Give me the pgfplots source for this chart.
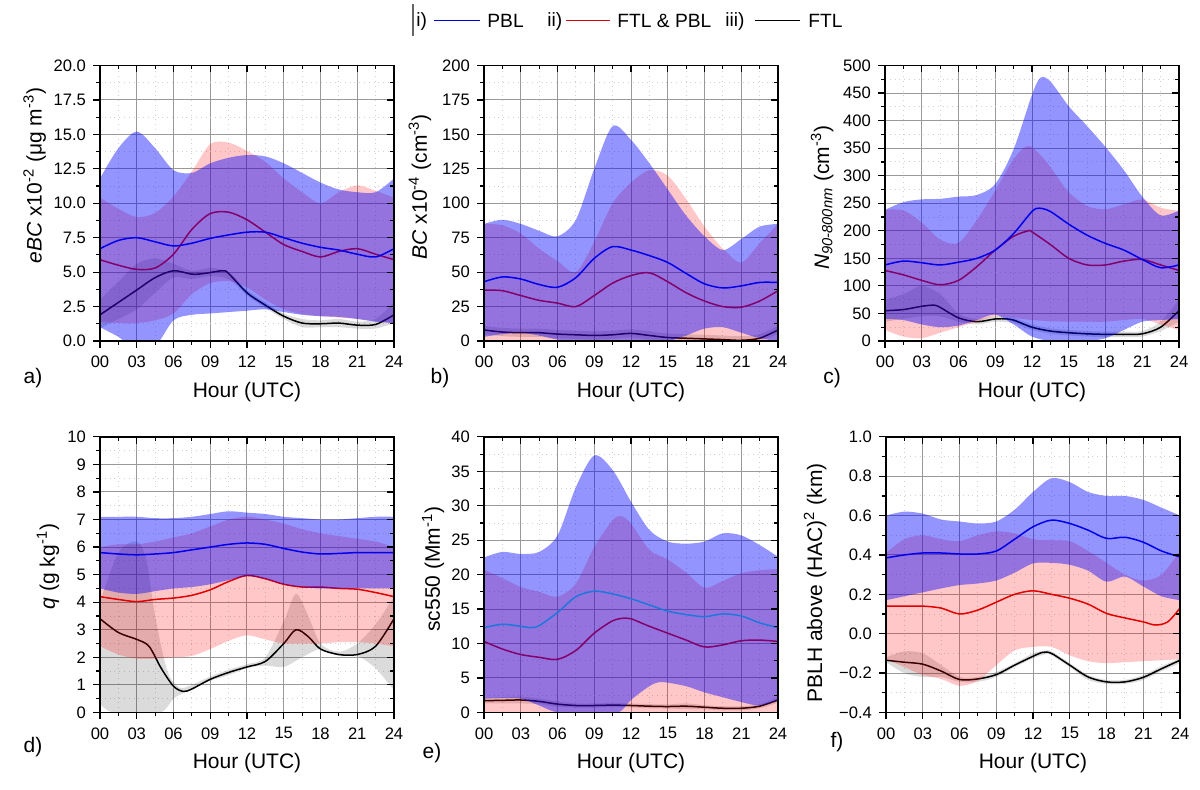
\documentclass[border=0pt]{standalone}
\usepackage{pgfplots}
\pgfplotsset{compat=1.18}
\usepgfplotslibrary{fillbetween}
\usepackage{fontspec}
\setmainfont{Liberation Sans}
\tikzset{fill between/on layer=main}
\definecolor{lblue}{RGB}{0,0,235}
\definecolor{lred}{RGB}{225,0,0}
\definecolor{eblue}{RGB}{30,120,220}
\pgfplotsset{
  base/.style={width=147pt,height=137.75pt,scale only axis,
    xmin=0,xmax=24,xtick={0,3,...,24},
    minor x tick num=1, minor y tick num=1,
    major tick length=3.5pt, minor tick length=2pt,
    every tick/.style={black,line width=0.6pt},
    axis line style={black,line width=0.7pt}},
  panel/.style={base,
    xticklabels={00,03,06,09,12,15,18,21,24},
    xtick pos=left, ytick pos=left, tick align=outside,
    grid=both,
    major grid style={black!40,line width=0.5pt},
    minor grid style={black!18,dotted,line width=0.45pt},
    tick label style={font=\fontsize{8.3}{9}\selectfont},
    label style={font=\fontsize{10.5}{12}\selectfont},
    xlabel={Hour (UTC)},
    xlabel style={at={(axis description cs:0.5,0)},anchor=center,yshift=-25.5pt},
    xticklabel style={yshift=-0.5pt}},
  mirror/.style={base, xticklabels={}, yticklabels={},
    xtick pos=right, ytick pos=right, tick align=inside},
  bp/.style={draw=none,smooth,forget plot},
  gband/.style={fill=black,fill opacity=0.14,draw=none,forget plot},
  pband/.style={fill=red,fill opacity=0.22,draw=none,forget plot},
  bband/.style={fill=blue,fill opacity=0.42,draw=none,forget plot},
  kline/.style={black,line width=0.75pt,smooth,forget plot},
  rline/.style={lred,line width=0.75pt,smooth,forget plot},
  bline/.style={lblue,line width=0.75pt,smooth,forget plot},
}
\begin{document}
\begin{tikzpicture}
\path (0,0) rectangle (600pt,395pt);
% ---------------- legend
\draw[black!60,line width=0.6pt] (206.5pt,393pt) -- (206.5pt,377pt);
\begin{scope}[every node/.style={anchor=west,inner sep=0pt,font=\fontsize{9.6}{11}\selectfont}]
\node at (208pt,384.3pt) {i)};
\draw[blue!85!black,line width=0.6pt] (217pt,384.8pt) -- (240pt,384.8pt);
\node at (243.5pt,384.3pt) {PBL};
\node at (273.5pt,384.3pt) {ii)};
\draw[red!85!black,line width=0.6pt] (283pt,384.8pt) -- (305pt,384.8pt);
\node at (308.5pt,384.3pt) {FTL \& PBL};
\node at (362.5pt,384.3pt) {iii)};
\draw[black,line width=0.6pt] (377.5pt,384.8pt) -- (400pt,384.8pt);
\node at (404pt,384.3pt) {FTL};
\end{scope}
% ---------------- panel labels
\begin{scope}[every node/.style={font=\fontsize{10.5}{12}\selectfont}]
\node at (16.5pt,206pt) {a)};
\node at (220pt,206pt) {b)};
\node at (416pt,206pt) {c)};
\node at (16.5pt,21.5pt) {d)};
\node at (216pt,18.5pt) {e)};
\node at (418.5pt,24pt) {f)};
\end{scope}
% ================= a
\begin{axis}[panel,at={(50pt,224.5pt)},anchor=south west,
  ymin=0,ymax=20,ytick={0,2.5,5,7.5,10,12.5,15,17.5,20},
  yticklabels={0.0,2.5,5.0,7.5,10.0,12.5,15.0,17.5,20.0},
  ylabel={\textit{eBC} x10\textsuperscript{-2} (μg m\textsuperscript{-3})},
  ylabel style={at={(axis description cs:-0.222,0.6)},anchor=center}]
\addplot[bp,name path=aGu] coordinates {(0,3.0)(1.5,4.3)(3,5.6)(4.5,6.0)(6,5.6)(7.5,5.1)(9,5.3)(10.5,5.0)(12,3.7)(13.5,2.8)(15,2.0)(16.5,1.6)(18,1.5)(19.5,1.6)(21,1.4)(22.5,1.6)(24,2.8)};
\addplot[bp,name path=aGl] coordinates {(0,0.9)(1.5,1.6)(3,2.3)(4.5,3.5)(6,4.6)(7.5,4.5)(9,4.7)(10.5,4.5)(12,3.3)(13.5,2.4)(15,1.6)(16.5,1.0)(18,1.0)(19.5,1.0)(21,0.9)(22.5,0.9)(24,1.3)};
\addplot[gband] fill between[of=aGu and aGl];
\addplot[kline] coordinates {(0,1.9)(1.5,2.8)(3,3.7)(4.5,4.6)(6,5.1)(7.5,4.85)(8.5,4.9)(10,5.1)(10.5,4.9)(12,3.5)(13.5,2.6)(15,1.8)(16.5,1.3)(18,1.25)(19.5,1.3)(21,1.15)(22.5,1.2)(24,1.9)};
\addplot[bp,name path=aPu] coordinates {(0,10.4)(1.5,9.6)(3,9.0)(4.5,9.3)(6,10.5)(7.5,12.3)(9,14.3)(10.5,14.4)(12,13.8)(13.5,13.0)(15,11.8)(16.5,10.8)(18,10.0)(19.5,10.8)(21,11.3)(22.5,10.9)(24,10.4)};
\addplot[bp,name path=aPl] coordinates {(0,1.4)(1.5,1.3)(3,1.3)(4.5,1.5)(6,2.0)(7.5,3.4)(9,4.2)(10.5,4.35)(12,3.9)(13.5,3.0)(15,2.3)(16.5,1.95)(18,1.8)(19.5,1.7)(21,1.6)(22.5,1.45)(24,1.3)};
\addplot[pband] fill between[of=aPu and aPl];
\addplot[rline] coordinates {(0,5.9)(1.5,5.5)(3,5.2)(4.5,5.3)(6,6.3)(7.5,8.1)(9,9.25)(10.5,9.35)(12,8.8)(13.5,7.9)(15,7.0)(16.5,6.5)(18,6.1)(19.5,6.5)(21,6.7)(22.5,6.3)(24,5.9)};
\addplot[bp,name path=aBu] coordinates {(0,11.8)(1.5,14.0)(3,15.2)(4.5,14.0)(6,12.4)(7.5,12.2)(9,12.9)(10.5,13.3)(12,13.5)(13.5,13.4)(15,12.9)(16.5,12.2)(18,11.5)(19.5,11.0)(21,10.8)(22.5,10.8)(24,11.8)};
\addplot[bp,name path=aBl] coordinates {(0,1.0)(1.5,0.3)(3,-0.6)(4.5,-0.4)(6,1.5)(7.5,1.9)(9,2.0)(10.5,2.1)(12,2.2)(13.5,2.3)(15,2.1)(16.5,1.9)(18,1.8)(19.5,1.75)(21,1.6)(22.5,1.4)(24,1.3)};
\addplot[bband] fill between[of=aBu and aBl];
\addplot[bline] coordinates {(0,6.7)(1.5,7.3)(3,7.5)(4.5,7.2)(6,6.9)(7.5,7.1)(9,7.45)(10.5,7.7)(12,7.9)(13.5,7.9)(15,7.5)(16.5,7.1)(18,6.8)(19.5,6.6)(21,6.3)(22.5,6.1)(24,6.7)};
\end{axis}
\begin{axis}[mirror,at={(50pt,224.5pt)},anchor=south west,ymin=0,ymax=20,ytick={0,2.5,...,20}]
\addplot[draw=none,forget plot] coordinates {(0,0)(24,20)};
\end{axis}
% ================= b
\begin{axis}[panel,at={(242pt,224.5pt)},anchor=south west,
  ymin=0,ymax=200,ytick={0,25,...,200},
  yticklabels={0,25,50,75,100,125,150,175,200},
  ylabel={\textit{BC} x10\textsuperscript{-4} (cm\textsuperscript{-3})},
  ylabel style={at={(axis description cs:-0.218,0.56)},anchor=center}]
\addplot[bp,name path=bGu] coordinates {(0,11)(1.5,9.5)(3,9)(4.5,9)(6,8)(7.5,7.5)(9,7)(10.5,7.5)(12,8.5)(13.5,7)(15,5.5)(16.5,5)(18,4.5)(19.5,4)(21,3.5)(22.5,5)(24,11)};
\addplot[bp,name path=bGl] coordinates {(0,5)(1.5,3.5)(3,3)(4.5,3)(6,2)(7.5,1.5)(9,1)(10.5,1.5)(12,2.5)(13.5,1)(15,0)(16.5,0)(18,0)(19.5,0)(21,0)(22.5,0)(24,5)};
\addplot[gband] fill between[of=bGu and bGl];
\addplot[kline] coordinates {(0,8)(1.5,6.5)(3,6)(4.5,6)(6,5)(7.5,4.5)(9,4)(10.5,4.5)(12,5.5)(13.5,4)(15,2.5)(16.5,2)(18,1.5)(19.5,1)(21,0.5)(22.5,2)(24,8)};
\addplot[bp,name path=bPu] coordinates {(0,85)(1.5,84)(3,78)(4.5,67)(6,58)(7.5,50)(9,72)(10.5,100)(12,115)(13.5,124)(15,120)(16.5,103)(18,83)(19.5,67)(21,57)(22.5,71)(24,85)};
\addplot[bp,name path=bPl] coordinates {(0,0)(6,0)(12,0)(18,0)(24,0)};
\addplot[pband] fill between[of=bPu and bPl];
\addplot[rline] coordinates {(0,37)(1.5,36.5)(3,33)(4.5,29.5)(6,27.5)(7.5,25)(9,33)(10.5,42)(12,47.5)(13.5,49.5)(15,43)(16.5,35)(18,29)(19.5,25)(21,24.5)(22.5,29)(24,36.5)};
\addplot[bp,name path=bBu] coordinates {(0,85)(1.5,88)(3,85)(4.5,80)(6,76)(7.5,88)(9,125)(10.5,156)(12,146)(13.5,129)(15,110)(16.5,91)(18,76)(19.5,66)(21,74)(22.5,83)(24,85)};
\addplot[bp,name path=bBl] coordinates {(0,3)(1.5,5)(3,6)(4.5,4)(6,1)(7.5,0)(9,0)(10.5,0)(12,0)(13.5,0)(15,0)(16.5,4)(18,9)(19.5,10)(21,6)(22.5,2)(24,0)};
\addplot[bband] fill between[of=bBu and bBl];
\addplot[bline] coordinates {(0,43)(1.5,46.5)(3,45)(4.5,41)(6,39)(7.5,46)(9,60)(10.5,68.5)(12,66)(13.5,62)(15,57)(16.5,49)(18,41.5)(19.5,38.5)(21,40)(22.5,42.5)(24,42.5)};
\end{axis}
\begin{axis}[mirror,at={(242pt,224.5pt)},anchor=south west,ymin=0,ymax=200,ytick={0,25,...,200}]
\addplot[draw=none,forget plot] coordinates {(0,0)(24,200)};
\end{axis}
% ================= c
\begin{axis}[panel,at={(442.5pt,224.5pt)},anchor=south west,
  ymin=0,ymax=500,ytick={0,50,...,500},
  yticklabels={0,50,100,150,200,250,300,350,400,450,500},
  ylabel={\textit{N}\textsubscript{\textit{90-800nm}} (cm\textsuperscript{-3})},
  ylabel style={at={(axis description cs:-0.214,0.52)},anchor=center}]
\addplot[bp,name path=cGu] coordinates {(0,75)(1.5,85)(3,100)(4.5,85)(6,50)(7.5,40)(9,45)(10.5,42)(12,30)(13.5,23)(15,20)(16.5,18)(18,17)(19.5,17)(21,18)(22.5,35)(24,75)};
\addplot[bp,name path=cGl] coordinates {(0,35)(1.5,40)(3,45)(4.5,45)(6,35)(7.5,30)(9,35)(10.5,32)(12,20)(13.5,13)(15,10)(16.5,8)(18,7)(19.5,7)(21,8)(22.5,18)(24,35)};
\addplot[gband] fill between[of=cGu and cGl];
\addplot[kline] coordinates {(0,55)(1.5,57)(3,63)(4,65)(4.5,61)(6,42)(7.5,35)(9,40)(10,40)(10.5,38)(12,25)(13.5,18)(15,15)(16.5,13)(18,12)(19.5,12)(21,13)(22.5,25)(24,55)};
\addplot[bp,name path=cPu] coordinates {(0,238)(1.5,237)(3,215)(4.5,184)(6,178)(7.5,220)(9,273)(10.5,330)(11.7,354)(13,330)(14,300)(15,270)(16.5,245)(18,239)(19.5,248)(21,257)(22.5,242)(24,236)};
\addplot[bp,name path=cPl] coordinates {(0,20)(1.5,8)(3,5)(4.5,15)(6,25)(7.5,35)(9,45)(10.5,42)(12,38)(13.5,36)(15,35)(16.5,35)(18,35)(19.5,38)(21,40)(22.5,30)(24,20)};
\addplot[pband] fill between[of=cPu and cPl];
\addplot[rline] coordinates {(0,128)(1.5,120)(3,110)(4.5,102)(6,110)(7.5,135)(9,165)(10.5,190)(11.7,200)(12,198)(13.5,175)(15,150)(16.5,138)(18,138)(19.5,145)(21,148)(22.5,138)(24,128)};
\addplot[bp,name path=cBu] coordinates {(0,238)(1.5,252)(3,257)(4.5,258)(6,262)(7.5,265)(9,285)(10.5,348)(12,447)(12.7,478)(13.5,471)(15,426)(16.5,390)(18,352)(19.5,310)(21,262)(22.5,228)(24,237)};
\addplot[bp,name path=cBl] coordinates {(0,40)(1.5,38)(3,30)(4.5,25)(6,28)(7.5,38)(9,48)(10.5,30)(12,8)(13.5,0)(15,0)(16.5,0)(18,5)(19.5,20)(21,35)(22.5,38)(24,40)};
\addplot[bband] fill between[of=cBu and cBl];
\addplot[bline] coordinates {(0,138)(1.5,145)(3,142)(4.5,138)(6,143)(7.5,150)(9,165)(10.5,195)(12,235)(12.6,241)(13.5,235)(15,212)(16.5,192)(18,177)(19.5,165)(21,148)(22.5,133)(24,138)};
\end{axis}
\begin{axis}[mirror,at={(442.5pt,224.5pt)},anchor=south west,ymin=0,ymax=500,ytick={0,50,...,500}]
\addplot[draw=none,forget plot] coordinates {(0,0)(24,500)};
\end{axis}
% ================= d
\begin{axis}[panel,at={(50pt,38.8pt)},anchor=south west,
  ymin=0,ymax=10,ytick={0,1,...,10},
  yticklabels={0,1,2,3,4,5,6,7,8,9,10},
  ylabel={\textit{q} (g kg\textsuperscript{-1})},
  ylabel style={at={(axis description cs:-0.177,0.53)},anchor=center}]
\addplot[bp,name path=dGu] coordinates {(0,4.0)(1.5,5.8)(3,6.2)(3.8,5.5)(4.5,3.5)(5.5,1.5)(6.5,0.9)(7.5,1.0)(9,1.3)(10.5,1.55)(12,1.75)(13.5,2.0)(15,3.3)(16,4.3)(17,3.5)(18,2.5)(19.5,2.2)(21,2.5)(22.5,3.2)(24,4.2)};
\addplot[bp,name path=dGl] coordinates {(0,0.3)(1,0)(3,0)(5,0)(6,0.5)(6.8,0.7)(7.5,0.85)(9,1.15)(10.5,1.35)(12,1.6)(13.5,1.7)(15,1.65)(16.5,2.0)(18,2.3)(19.5,2.05)(21,2.05)(22.5,1.6)(24,0.8)};
\addplot[gband] fill between[of=dGu and dGl];
\addplot[kline] coordinates {(0,3.4)(1.5,2.9)(3,2.65)(4,2.4)(5,1.6)(6,0.95)(6.8,0.76)(7.5,0.85)(9,1.2)(10.5,1.45)(12,1.65)(13.5,1.85)(15,2.5)(16,3.0)(17,2.75)(18,2.3)(19.5,2.1)(21,2.1)(22.5,2.4)(24,3.4)};
\addplot[bp,name path=dPu] coordinates {(0,6.0)(1.5,6.1)(3,6.1)(4.5,6.2)(6,6.35)(7.5,6.5)(9,6.75)(10.5,7.0)(12,7.1)(13.5,7.0)(15,6.85)(16.5,6.65)(18,6.5)(19.5,6.4)(21,6.3)(22.5,6.2)(24,6.0)};
\addplot[bp,name path=dPl] coordinates {(0,2.4)(1.5,2.1)(3,1.95)(4.5,1.95)(6,2.0)(7.5,2.05)(9,2.3)(10.5,2.6)(12,2.8)(13.5,2.65)(15,2.5)(16.5,2.5)(18,2.5)(19.5,2.55)(21,2.55)(22.5,2.5)(24,2.4)};
\addplot[pband] fill between[of=dPu and dPl];
\addplot[rline] coordinates {(0,4.2)(1.5,4.1)(3,4.02)(4.5,4.1)(6,4.15)(7.5,4.25)(9,4.45)(10.5,4.75)(12,4.97)(13.5,4.85)(15,4.65)(16.5,4.55)(18,4.55)(19.5,4.5)(21,4.47)(22.5,4.35)(24,4.2)};
\addplot[bp,name path=dBu] coordinates {(0,7.1)(1.5,7.1)(3,7.1)(4.5,7.05)(6,7.05)(7.5,7.1)(9,7.2)(10.5,7.3)(12,7.25)(13.5,7.2)(15,7.1)(16.5,7.05)(18,7.0)(19.5,7.0)(21,7.05)(22.5,7.1)(24,7.1)};
\addplot[bp,name path=dBl] coordinates {(0,4.5)(1.5,4.35)(3,4.3)(4.5,4.4)(6,4.5)(7.5,4.55)(9,4.65)(10.5,4.8)(12,4.95)(13.5,4.85)(15,4.65)(16.5,4.55)(18,4.5)(19.5,4.5)(21,4.5)(22.5,4.5)(24,4.5)};
\addplot[bband] fill between[of=dBu and dBl];
\addplot[bline] coordinates {(0,5.8)(1.5,5.75)(3,5.72)(4.5,5.75)(6,5.8)(7.5,5.9)(9,6.0)(10.5,6.1)(12,6.15)(13.5,6.1)(15,5.95)(16.5,5.82)(18,5.75)(19.5,5.77)(21,5.8)(22.5,5.8)(24,5.8)};
\end{axis}
\begin{axis}[mirror,at={(50pt,38.8pt)},anchor=south west,ymin=0,ymax=10,ytick={0,1,...,10}]
\addplot[draw=none,forget plot] coordinates {(0,0)(24,10)};
\end{axis}
% ================= e
\begin{axis}[panel,at={(242pt,38.8pt)},anchor=south west,
  ymin=0,ymax=40,ytick={0,5,...,40},
  yticklabels={0,5,10,15,20,25,30,35,40},
  ylabel={sc550 (Mm\textsuperscript{-1})},
  ylabel style={at={(axis description cs:-0.173,0.52)},anchor=center}]
\addplot[bp,name path=eGu] coordinates {(0,2.1)(1.5,2.2)(3,2.3)(4.5,2.0)(6,1.6)(7.5,1.3)(9,1.3)(10.5,1.35)(12,1.3)(13.5,1.2)(15,1.15)(16.5,1.3)(18,1.05)(19.5,0.9)(21,0.9)(22.5,1.2)(24,2.2)};
\addplot[bp,name path=eGl] coordinates {(0,1.3)(1.5,1.3)(3,1.3)(4.5,1.2)(6,0.8)(7.5,0.7)(9,0.7)(10.5,0.75)(12,0.7)(13.5,0.6)(15,0.55)(16.5,0.5)(18,0.45)(19.5,0.3)(21,0.3)(22.5,0.6)(24,1.4)};
\addplot[gband] fill between[of=eGu and eGl];
\addplot[kline] coordinates {(0,1.7)(1.5,1.75)(3,1.8)(4.5,1.6)(6,1.2)(7.5,1.0)(9,1.0)(10.5,1.05)(12,1.0)(13.5,0.9)(15,0.85)(16.5,0.9)(18,0.75)(19.5,0.6)(21,0.6)(22.5,0.9)(24,1.8)};
\addplot[bp,name path=ePu] coordinates {(0,20.7)(1.5,19.5)(3,18.2)(4.5,17.5)(6,16.8)(7.5,18.7)(9,24)(10.5,27.9)(11.2,28.5)(12,27.4)(13.5,23.6)(15,22.2)(16.5,20.3)(18,18.1)(19.5,19.1)(21,20.2)(22.5,20.65)(24,20.8)};
\addplot[bp,name path=ePl] coordinates {(0,0)(6,0)(12,0)(18,0)(24,0)};
\addplot[pband] fill between[of=ePu and ePl];
\addplot[rline] coordinates {(0,10.3)(1.5,9.2)(3,8.4)(4.5,8.0)(6,7.7)(7.5,9.0)(9,11.5)(10.5,13.3)(11.5,13.7)(12,13.6)(13.5,12.5)(15,11.5)(16.5,10.5)(18,9.5)(19.5,9.8)(21,10.4)(22.5,10.5)(24,10.3)};
\addplot[bp,name path=eBu] coordinates {(0,22.5)(1.5,23.3)(3,23.0)(4.5,23.3)(6,25.7)(7.5,32.7)(9,37.3)(10.5,35.2)(12,30.6)(13.5,26.5)(15,24.8)(16.5,24.5)(18,24.8)(19.5,26)(21,25.7)(22.5,24.3)(24,22.6)};
\addplot[bp,name path=eBl] coordinates {(0,2.0)(1.5,2.1)(3,2.0)(4.5,1.0)(6,0)(9,-0.5)(11,0)(12,1.8)(13.5,3.8)(14.5,4.4)(16.5,3.8)(18,2.9)(19.5,2.2)(21,1.5)(22.5,1.0)(24,1.8)};
\addplot[bband] fill between[of=eBu and eBl];
\addplot[eblue,line width=0.75pt,smooth,forget plot] coordinates {(0,12.3)(1.5,12.8)(3,12.5)(3.8,12.3)(4.5,12.6)(6,14.5)(7.5,16.8)(9,17.6)(10.5,17.2)(12,16.5)(13.5,15.6)(15,14.7)(16.5,14.2)(18,13.9)(19.5,14.3)(21,14.0)(22.5,13.0)(24,12.3)};
\end{axis}
\begin{axis}[mirror,at={(242pt,38.8pt)},anchor=south west,ymin=0,ymax=40,ytick={0,5,...,40}]
\addplot[draw=none,forget plot] coordinates {(0,0)(24,40)};
\end{axis}
% ================= f
\begin{axis}[panel,at={(443pt,38.8pt)},anchor=south west,
  ymin=-0.4,ymax=1.0,ytick={-0.4,-0.2,0,0.2,0.4,0.6,0.8,1.0},
  yticklabels={−0.4,−0.2,0.0,0.2,0.4,0.6,0.8,1.0},
  ylabel={PBLH above (HAC)\textsuperscript{2} (km)},
  ylabel style={at={(axis description cs:-0.241,0.47)},anchor=center}]
\addplot[bp,name path=fGu] coordinates {(0,-0.12)(1.5,-0.09)(3,-0.10)(4.5,-0.16)(6,-0.22)(7.5,-0.22)(9,-0.195)(10.5,-0.15)(12,-0.10)(13,-0.085)(13.5,-0.09)(15,-0.15)(16.5,-0.21)(18,-0.235)(19.5,-0.235)(21,-0.21)(22.5,-0.165)(24,-0.125)};
\addplot[bp,name path=fGl] coordinates {(0,-0.145)(1.5,-0.2)(3,-0.22)(4.5,-0.22)(6,-0.245)(7.5,-0.245)(9,-0.22)(10.5,-0.17)(12,-0.125)(13,-0.105)(13.5,-0.11)(15,-0.17)(16.5,-0.235)(18,-0.255)(19.5,-0.255)(21,-0.235)(22.5,-0.19)(24,-0.15)};
\addplot[gband] fill between[of=fGu and fGl];
\addplot[kline] coordinates {(0,-0.135)(1.5,-0.145)(3,-0.155)(4.5,-0.19)(6,-0.233)(7.5,-0.23)(9,-0.208)(10.5,-0.16)(12,-0.115)(12.8,-0.095)(13.5,-0.1)(15,-0.16)(16.5,-0.22)(18,-0.245)(19.5,-0.245)(21,-0.222)(22.5,-0.178)(24,-0.135)};
\addplot[bp,name path=fPu] coordinates {(0,0.41)(1.5,0.48)(3,0.50)(4.5,0.48)(6,0.47)(7.5,0.50)(9,0.52)(10.5,0.51)(12,0.48)(13.5,0.475)(15,0.47)(16.5,0.42)(18,0.36)(19.5,0.30)(21,0.27)(22.5,0.30)(24,0.42)};
\addplot[bp,name path=fPl] coordinates {(0,-0.13)(1.5,-0.17)(3,-0.21)(4.5,-0.23)(6,-0.265)(7.5,-0.24)(9,-0.16)(10.5,-0.085)(12,-0.067)(13.5,-0.067)(15,-0.11)(16.5,-0.14)(18,-0.15)(19.5,-0.145)(21,-0.14)(22.5,-0.135)(24,-0.13)};
\addplot[pband] fill between[of=fPu and fPl];
\addplot[rline] coordinates {(0,0.14)(1.5,0.14)(3,0.14)(4.5,0.13)(6,0.10)(7.5,0.12)(9,0.16)(10.5,0.20)(12,0.218)(13.5,0.2)(15,0.18)(16.5,0.15)(18,0.103)(19.5,0.08)(21,0.06)(22,0.044)(23,0.06)(24,0.13)};
\addplot[bp,name path=fBu] coordinates {(0,0.60)(1.5,0.62)(3,0.61)(4.5,0.58)(6,0.57)(7.5,0.56)(9,0.57)(10.5,0.63)(12,0.72)(13.5,0.79)(15,0.77)(16.5,0.72)(18,0.70)(19.5,0.70)(21,0.68)(22.5,0.64)(24,0.60)};
\addplot[bp,name path=fBl] coordinates {(0,0.17)(1.5,0.19)(3,0.21)(4.5,0.23)(6,0.247)(7.5,0.255)(9,0.27)(10.5,0.31)(12,0.357)(13.5,0.36)(15,0.35)(16.5,0.32)(18,0.264)(19.5,0.29)(21,0.24)(22.5,0.19)(24,0.17)};
\addplot[bband] fill between[of=fBu and fBl];
\addplot[bline] coordinates {(0,0.385)(1.5,0.40)(3,0.41)(4.5,0.41)(6,0.405)(7.5,0.405)(9,0.42)(10.5,0.48)(12,0.543)(13.5,0.577)(15,0.56)(16.5,0.526)(18,0.484)(19.5,0.49)(21,0.465)(22.5,0.42)(24,0.39)};
\end{axis}
\begin{axis}[mirror,at={(443pt,38.8pt)},anchor=south west,ymin=-0.4,ymax=1.0,ytick={-0.4,-0.2,0,0.2,0.4,0.6,0.8,1.0}]
\addplot[draw=none,forget plot] coordinates {(0,-0.4)(24,1.0)};
\end{axis}
\end{tikzpicture}
\end{document}
